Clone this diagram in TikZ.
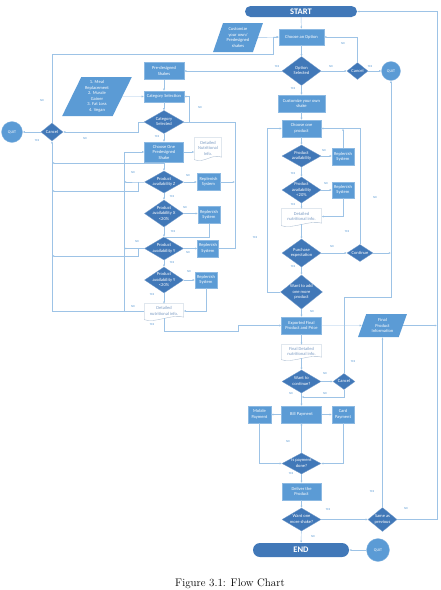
\documentclass[tikz,border=0pt]{standalone}
\usepackage{fontspec}
\newfontfamily\flowfont{Carlito}
\usetikzlibrary{arrows.meta, shapes.geometric}
\definecolor{boxblue}{HTML}{5B9BD5}
\definecolor{decblue}{HTML}{4178B8}
\definecolor{linecol}{HTML}{9DC3E6}
\definecolor{doctext}{HTML}{7C9CC4}
\definecolor{docedge}{HTML}{A9BCD0}
% text of a diamond: centred, takes no room
\newcommand{\dtxt}[1]{\makebox[0pt]{\raisebox{\dimexpr(\depth-\height)/2\relax}[0pt][0pt]{\begin{tabular}[b]{@{}c@{}}#1\end{tabular}}}}
% outline of a document shape
\newcommand{\docframe}[1]{\draw[docln] ([yshift=1pt]#1.south east) -- (#1.north east) -- (#1.north west) -- ([yshift=-1.5pt]#1.south west) .. controls +(10pt,-4pt) and +(-10pt,4pt) .. ([yshift=1pt]#1.south east);}

\begin{document}
\begin{tikzpicture}[x=1pt, y=-1pt,
    sz/.style 2 args={minimum width=#1, minimum height=#2},
    box/.style={rectangle, fill=boxblue, draw=boxblue!70!white, line width=0.3pt, text=white,
      align=center, inner sep=0pt, font=\flowfont\fontsize{4.5}{5.5}\selectfont},
    dec/.style={diamond, fill=decblue, draw=decblue!70!white, line width=0.3pt, text=white,
      inner sep=0pt, font=\flowfont\fontsize{4.5}{5.5}\selectfont},
    term/.style={rectangle, rounded corners=5.5pt, fill=decblue, text=white, inner sep=0pt,
      font=\flowfont\bfseries\fontsize{8.5}{10}\selectfont},
    quit/.style={circle, fill=boxblue, draw=boxblue!70!white, line width=0.3pt, text=white,
      inner sep=0pt, font=\flowfont\fontsize{4}{5}\selectfont},
    para/.style={trapezium, trapezium stretches=true, fill=boxblue, text=white, align=center,
      inner sep=0pt, font=\flowfont\fontsize{4.5}{5.5}\selectfont},
    docu/.style={rectangle, fill=white, text=doctext, align=center, inner sep=0pt,
      font=\flowfont\fontsize{4.5}{5.5}\selectfont},
    docln/.style={draw=docedge, line width=0.35pt},
    arr/.style={-{Latex[length=2.2pt,width=2pt]}, draw=linecol, line width=0.45pt},
    ln/.style={draw=linecol, line width=0.45pt},
    lbl/.style={text=boxblue, inner sep=0pt, font=\flowfont\fontsize{3}{3.5}\selectfont}
  ]
  \path[use as bounding box, fill=white] (0,0) rectangle (441,590);

  % top
  \node[term, sz={112}{11}] (start) at (301,11.5) {START};
  \node[box, sz={45}{16}] (opt) at (301.5,37) {Choose an Option};
  \node[para, trapezium left angle=69, trapezium right angle=111, sz={50}{29}] (inputtop) at (238,37.5) {Customize\\your own/\\Predesigned\\shakes};
  \node[dec, sz={39}{29}] (optsel) at (301.5,71) {\dtxt{Option\\Selected}};
  \node[dec, sz={21}{17}] (cancr) at (357.5,71) {\dtxt{Cancel}};
  \node[quit, minimum size=19] (quitr) at (391,71) {QUIT};

  % pre-designed shakes
  \node[box, sz={40}{17}] (pre) at (164,71) {Pre-designed\\Shakes};
  \node[box, sz={40}{11}] (catsel) at (164,96.5) {Category Selection};
  \node[para, trapezium left angle=65, trapezium right angle=115, sz={70}{39}] (catlist) at (97,96.5) {1. Meal\\Replacement\\2. Muscle\\Gainer\\3. Fat Loss\\4. Vegan};
  \node[dec, sz={40}{23}] (catsd) at (164,122) {\dtxt{Category\\Selected}};
  \node[dec, sz={22}{18}] (cancl) at (52,132) {\dtxt{Cancel}};
  \node[quit, minimum size=21] (quitl) at (12,132) {QUIT};
  \node[box, sz={39}{20}] (chone) at (164,152) {Choose One\\Predesigned\\Shake};
  \node[docu, sz={27}{20}] (infot) at (208,148) {Detailed\\Nutritional\\Info.};
  \docframe{infot}
  \node[dec, sz={39}{22}] (avz) at (164,182) {\dtxt{Product\\availability Z}};
  \node[box, sz={23}{17}] (repz) at (208.5,182) {Replenish\\System};
  \node[dec, sz={39}{27}] (avx) at (164,213.5) {\dtxt{Product\\availability X\\<20\%}};
  \node[box, sz={22}{17}] (repx) at (209,215) {Replenish\\System};
  \node[dec, sz={39}{23}] (avy) at (164,248.5) {\dtxt{Product\\availability Y}};
  \node[box, sz={21}{17}] (repy) at (208,248.5) {Replenish\\System};
  \node[dec, sz={39}{26}] (avy2) at (164,280) {\dtxt{Product\\availability Y\\<20\%}};
  \node[box, sz={22}{16}] (repy2) at (206,280) {Replenish\\System};
  \node[docu, sz={39}{14}] (infol) at (164,311) {Detailed\\nutritional info.};
  \docframe{infol}

  % customize your own shake
  \node[box, sz={47}{17}] (cust) at (301.5,103.5) {Customize your own\\shake};
  \node[box, sz={39}{17}] (chprod) at (301.5,128.5) {Choose one\\product};
  \node[dec, sz={39}{22}] (ava) at (301.5,156) {\dtxt{Product\\availability}};
  \node[box, sz={22}{17}] (repa) at (343,157) {Replenish\\System};
  \node[dec, sz={39}{26}] (avb) at (301.5,190) {\dtxt{Product\\availability\\<20\%}};
  \node[box, sz={22}{16}] (repb) at (343,190) {Replenish\\System};
  \node[docu, sz={40}{15}] (infor) at (301.5,216.5) {Detailed\\nutritional info.};
  \docframe{infor}
  \node[dec, sz={39}{28}] (purch) at (301.5,253) {\dtxt{Purchase\\expectation}};
  \node[dec, sz={26}{17}] (cont) at (360,253) {\dtxt{Continue}};
  \node[dec, sz={42}{34}] (more) at (301.5,292) {\dtxt{Want to add\\one more\\product}};

  % bottom
  \node[box, sz={40}{17}] (export) at (301.5,325.5) {Exported Final\\Product and Price};
  \node[para, trapezium left angle=69, trapezium right angle=111, sz={49}{23}] (fpi) at (382.5,325.5) {Final\\Product\\Information};
  \node[docu, sz={40}{13}] (final) at (301.5,351.5) {Final Detailed\\nutritional info.};
  \docframe{final}
  \node[dec, sz={39}{23}] (wcont) at (301.5,381.5) {\dtxt{Want to\\continue?}};
  \node[dec, sz={22}{16}] (cancb) at (344,381.5) {\dtxt{Cancel}};
  \node[box, sz={40}{17}] (bill) at (301.5,414.5) {Bill Payment};
  \node[box, sz={23}{17}] (mobile) at (259.5,414.5) {Mobile\\Payment};
  \node[box, sz={22}{17}] (card) at (343,414.5) {Card\\Payment};
  \node[dec, sz={39}{21}] (paid) at (301.5,463.5) {\dtxt{Is payment\\done?}};
  \node[box, sz={39}{17}] (deliver) at (301.5,491.5) {Deliver the\\Product};
  \node[dec, sz={39}{23}] (oneshake) at (301.5,519.5) {\dtxt{Want one\\more shake?}};
  \node[dec, sz={29}{24}] (same) at (382.5,519.5) {\dtxt{Same as\\previous}};
  \node[term, rounded corners=7pt, sz={96}{14}] (endn) at (301,550) {END};
  \node[quit, minimum size=23] (quitb) at (378,550) {QUIT};

  % junctions
  \coordinate (jtop) at (273,54);
  \coordinate (jcl) at (138,122);
  \coordinate (jcr) at (189,122);
  \coordinate (jrep) at (235,122);
  \coordinate (jch) at (164,163);
  \coordinate (jz) at (138,182);
  \coordinate (jz2) at (138,191);
  \coordinate (jy) at (138,248.5);
  \coordinate (jy2) at (138,256);
  \coordinate (jx) at (164,237);
  \coordinate (jloop) at (124,311);
  \coordinate (jexp) at (238,331);
  \coordinate (jq) at (391,297);
  \coordinate (jadd) at (267,292);
  \coordinate (jright) at (437,519.5);
  \coordinate (jwc) at (301.5,397);

  % connectors, top
  \draw[arr] (start) -- (opt);
  \draw[arr] (inputtop) -- (opt);
  \draw[arr] (cancl.north) |- (jtop) |- (opt.west);
  \draw[arr] (opt) -- (optsel);
  \draw[arr] (optsel.west) -- (pre.east);
  \draw[arr] (optsel) -- (cancr);
  \draw[arr] (cancr) -- (quitr);
  \draw[arr] (cancr.north) |- (opt.east);
  \draw[arr] (optsel) -- (cust);

  % connectors, left column
  \draw[arr] (pre) -- (catsel);
  \draw[arr] (catlist.east) -- (catsel.west);
  \draw[arr] (catsel) -- (catsd);
  \draw[arr] (catsd.west) -- (jcl) |- (cancl.east);
  \draw[arr] (cancl) -- (quitl);
  \draw[arr] (catsd.east) -- (jcr) |- (catsel.east);
  \draw[ln] (jcr) -- (jrep) |- (repy.east);
  \draw[arr] (repz.east) -- (repz.east -| jrep);
  \draw[arr] (catsd) -- (chone);
  \draw[arr] (chone.east) -- (chone.east -| infot.west);
  \draw[arr] (chone) -- (avz);
  \draw[arr] (jch) -- (jch -| cancl);
  \draw[arr] (infol.west) -| (cancl.south);
  \draw[arr] (jloop) |- (chone.west);
  \draw[arr] (avz) -- (repz);
  \draw[arr] (avz.west) -- (jz) -- (jz -| jloop);
  \draw[arr] (jz) -- (jz2) -- (jz2 -| cancl);
  \draw[arr] (avz) -- (avx);
  \draw[arr] (avx.east) -- (avx.east -| repx.west);
  \draw[ln] (repx.south) |- (jx);
  \draw[arr] (avx) -- (avy);
  \draw[arr] (avy) -- (repy);
  \draw[arr] (avy.west) -- (jy) -- (jy -| jloop);
  \draw[arr] (jy) -- (jy2) -- (jy2 -| cancl);
  \draw[arr] (avy) -- (avy2);
  \draw[arr] (avy2) -- (repy2);
  \draw[arr] (repy2.south) |- (infol.east);
  \draw[arr] (avy2) -- (infol);
  \draw[arr] (infol.south) |- (jexp) |- (export.west);

  % connectors, right column
  \draw[arr] (cust) -- (chprod);
  \draw[arr] (chprod) -- (ava);
  \draw[arr] (ava.east) -- (ava.east -| repa.west);
  \draw[arr] (repa.north) -- (repa.north |- chprod.east);
  \draw[arr] (ava) -- (avb);
  \draw[arr] (avb) -- (repb);
  \draw[arr] (repb.south) |- (infor.east);
  \draw[arr] (avb) -- (infor);
  \draw[arr] (infor) -- (purch);
  \draw[arr] (purch) -- (cont);
  \draw[arr] (cont.north) |- (chprod.east);
  \draw[arr] (cont.east) -- (cont.east -| jq);
  \draw[arr] (purch) -- (more);
  \draw[arr] (more.west) -- (jadd) |- (chprod.west);
  \draw[arr] (more) -- (export);

  % connectors, bottom
  \draw[arr] (export) -- (fpi);
  \draw[arr] (fpi.east) -- (fpi.east -| jright);
  \draw[arr] (same.east) -- (jright) |- (start.east);
  \draw[arr] (export) -- (final);
  \draw[arr] (final) -- (wcont);
  \draw[arr] (wcont) -- (cancb);
  \draw[arr] (cancb.south) |- (jwc);
  \draw[arr] (cancb.north) |- (jq) -- (quitr.south);
  \draw[arr] (wcont) -- (bill);
  \draw[arr] (bill) -- (mobile);
  \draw[arr] (bill) -- (card);
  \draw[arr] (mobile.south) |- (paid.west);
  \draw[arr] (card.south) |- (paid.east);
  \draw[arr] (paid) -- (bill);
  \draw[arr] (paid) -- (deliver);
  \draw[arr] (deliver) -- (oneshake);
  \draw[arr] (oneshake) -- (same);
  \draw[arr] (same) -- (fpi);
  \draw[arr] (oneshake) -- (endn);
  \draw[arr] (quitb) -- (endn);

  % yes / no
  \foreach \n/\x/\y/\t in {l1/277/67/YES, l2/331/67/NO, l3/370/67/YES, l4/343/44/NO,
      l5/293/89/YES, l6/42/101/NO, l7/37/141/YES, l8/85/139/NO, l9/200/108/NO,
      l10/157/137/YES, l11/133/173/NO, l12/188/176/NO, l13/172/197/YES, l14/185/208/NO,
      l15/173/232/YES, l16/137/242/NO, l17/188/253/NO, l18/172/263/YES, l19/189/272/NO,
      l20/152/295/YES, l21/133/307/NO, l22/152/325/YES, l23/324/151/NO, l24/293/174/YES,
      l25/326/184/NO, l26/293/205/YES, l27/332/247/NO, l28/347/232/YES, l29/375/198/NO,
      l30/293/267/YES, l31/255/238/YES, l32/312/312/NO, l33/325/374/NO, l34/325/394/NO,
      l35/291/394/NO, l36/353/362/YES, l37/288/442/NO, l38/291/474/YES, l39/328/510/YES,
      l40/372/492/YES, l41/406/509/NO, l42/313/537/NO}
    \node[lbl] (\n) at (\x,\y) {\t};

  \node[anchor=base, font=\fontsize{11}{13}\selectfont] (cap) at (230,586.5) {Figure 3.1: Flow Chart};
\end{tikzpicture}
\end{document}
